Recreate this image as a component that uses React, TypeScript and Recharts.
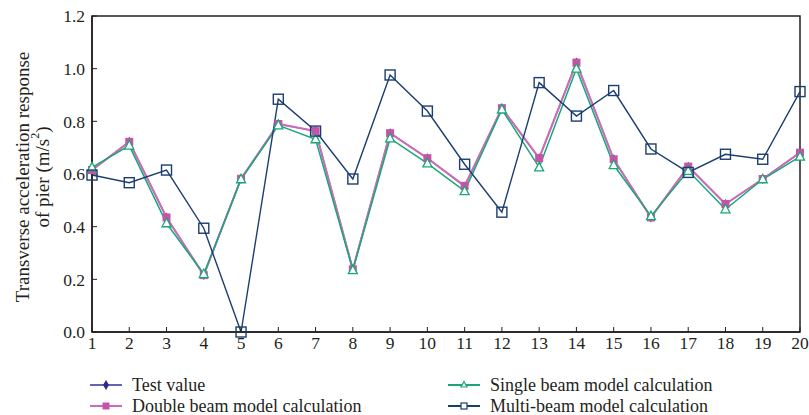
import React from 'react';
import {
  LineChart,
  Line,
  XAxis,
  YAxis,
  Legend,
  ReferenceArea,
} from 'recharts';

// pier numbers along the bridge
const piers = [1, 2, 3, 4, 5, 6, 7, 8, 9, 10, 11, 12, 13, 14, 15, 16, 17, 18, 19, 20];

// transverse acceleration response (m/s2)
const testValue = [0.615, 0.722, 0.435, 0.216, 0.582, 0.79, 0.763, 0.238, 0.755, 0.66, 0.553, 0.85, 0.66, 1.023, 0.656, 0.435, 0.628, 0.486, 0.581, 0.681];
const doubleBeam = [0.615, 0.722, 0.435, 0.216, 0.582, 0.79, 0.763, 0.238, 0.755, 0.66, 0.555, 0.85, 0.66, 1.023, 0.656, 0.435, 0.628, 0.486, 0.581, 0.681];
const singleBeam = [0.625, 0.708, 0.413, 0.22, 0.58, 0.785, 0.732, 0.235, 0.735, 0.64, 0.535, 0.845, 0.625, 1.0, 0.634, 0.44, 0.612, 0.466, 0.58, 0.666];
const multiBeam = [0.596, 0.567, 0.615, 0.394, 0.0, 0.884, 0.763, 0.581, 0.976, 0.839, 0.637, 0.455, 0.947, 0.82, 0.917, 0.695, 0.606, 0.675, 0.656, 0.913];

const yTicks = [0, 0.2, 0.4, 0.6, 0.8, 1.0, 1.2];

const data = piers.map((p, i) => ({
  pier: p,
  test: testValue[i],
  double: doubleBeam[i],
  single: singleBeam[i],
  multi: multiBeam[i],
}));

const FONT = '"Liberation Serif", "DejaVu Serif", serif';
const INK = '#231f20';

const C_TEST_LINE = '#6464b4';
const C_TEST_DOT = '#2c2c8c';
const C_DOUBLE = '#c554a8';
const C_DOUBLE_LINE = '#cc6cb8';
const C_SINGLE = '#17a878';
const C_MULTI = '#1b3d72';

const Diamond = (props: any) => {
  const { cx, cy } = props;
  if (cx == null || cy == null) return null;
  return (
    <path
      key={`d-${props.index}`}
      d={`M${cx},${cy - 5}L${cx + 3},${cy}L${cx},${cy + 5}L${cx - 3},${cy}Z`}
      fill={C_TEST_DOT}
    />
  );
};

const FilledSquare = (props: any) => {
  const { cx, cy } = props;
  if (cx == null || cy == null) return null;
  return <rect key={`s-${props.index}`} x={cx - 4} y={cy - 4} width={8} height={8} fill={C_DOUBLE} />;
};

const Triangle = (props: any) => {
  const { cx, cy } = props;
  if (cx == null || cy == null) return null;
  return (
    <path
      key={`t-${props.index}`}
      d={`M${cx},${cy - 5}L${cx + 4.5},${cy + 3.5}L${cx - 4.5},${cy + 3.5}Z`}
      fill="#fff"
      stroke={C_SINGLE}
      strokeWidth={1.3}
    />
  );
};

const HollowSquare = (props: any) => {
  const { cx, cy } = props;
  if (cx == null || cy == null) return null;
  return (
    <rect
      key={`m-${props.index}`}
      x={cx - 5}
      y={cy - 5}
      width={10}
      height={10}
      fill="none"
      stroke={C_MULTI}
      strokeWidth={1.4}
    />
  );
};

const YLabel = () => {
  const cy = 177;
  return (
    <g fontFamily={FONT} fontSize={19} fill={INK}>
      <text x={22} y={cy} transform={`rotate(-90 22 ${cy})`} textAnchor="middle" dominantBaseline="central">
        Transverse acceleration response
      </text>
      <text x={42} y={cy} transform={`rotate(-90 42 ${cy})`} textAnchor="middle" dominantBaseline="central">
        of pier (m/s<tspan dy={-7} fontSize={12}>2</tspan><tspan dy={7}>)</tspan>
      </text>
    </g>
  );
};

const legendItems = [
  { label: 'Test value', kind: 'test' },
  { label: 'Single beam model calculation', kind: 'single' },
  { label: 'Double beam model calculation', kind: 'double' },
  { label: 'Multi-beam model calculation', kind: 'multi' },
];

function LegendIcon({ kind }: { kind: string }) {
  let line = C_TEST_LINE;
  let mark: React.ReactNode = null;
  if (kind === 'test') {
    mark = <path d="M16,5L19,10L16,15L13,10Z" fill={C_TEST_DOT} />;
  } else if (kind === 'double') {
    line = C_DOUBLE_LINE;
    mark = <rect x={12.5} y={6.5} width={7} height={7} fill={C_DOUBLE} />;
  } else if (kind === 'single') {
    line = C_SINGLE;
    mark = <path d="M16,6.5L19,12L13,12Z" fill="#fff" stroke={C_SINGLE} strokeWidth={1.2} />;
  } else {
    line = C_MULTI;
    mark = <rect x={13} y={7} width={6} height={6} fill="#fff" stroke={C_MULTI} strokeWidth={1.2} />;
  }
  return (
    <svg width={32} height={20} style={{ display: 'block' }}>
      <line x1={0} y1={10} x2={32} y2={10} stroke={line} strokeWidth={2} />
      {mark}
    </svg>
  );
}

const renderLegend = () => (
  <div
    style={{
      display: 'grid',
      gridTemplateColumns: '358px 340px',
      rowGap: 1,
      fontFamily: FONT,
      fontSize: 18,
      color: INK,
    }}
  >
    {legendItems.map((it) => (
      <div key={it.kind} style={{ display: 'flex', alignItems: 'center', height: 20 }}>
        <LegendIcon kind={it.kind} />
        <span style={{ marginLeft: 10, whiteSpace: 'nowrap' }}>{it.label}</span>
      </div>
    ))}
  </div>
);

export default function App() {
  return (
    <div style={{ position: 'absolute', left: 0, top: 0, width: 809, height: 415, background: '#fff' }}>
      <LineChart width={809} height={415} data={data} margin={{ top: 16, right: 9, bottom: 53, left: 0 }}>
        <XAxis
          dataKey="pier"
          type="number"
          domain={[1, 20]}
          ticks={piers}
          interval={0}
          height={30}
          tickSize={-5}
          tickMargin={10}
          axisLine={{ stroke: INK, strokeWidth: 1.5 }}
          tickLine={{ stroke: INK, strokeWidth: 1 }}
          tick={{ fill: INK, fontFamily: FONT, fontSize: 17.5 }}
        />
        <YAxis
          type="number"
          domain={[0, 1.2]}
          ticks={yTicks}
          interval={0}
          width={92}
          tickSize={-5}
          tickMargin={12}
          tickFormatter={(v: number) => v.toFixed(1)}
          axisLine={{ stroke: INK, strokeWidth: 1.5 }}
          tickLine={{ stroke: INK, strokeWidth: 1 }}
          tick={{ fill: INK, fontFamily: FONT, fontSize: 17.5 }}
          label={<YLabel />}
        />
        <ReferenceArea x1={1} x2={20} y1={0} y2={1.2} fill="none" stroke={INK} strokeWidth={1.5} />
        <Line
          dataKey="test"
          name="Test value"
          stroke={C_TEST_LINE}
          strokeWidth={1.5}
          dot={Diamond}
          activeDot={false}
          isAnimationActive={false}
        />
        <Line
          dataKey="double"
          name="Double beam model calculation"
          stroke={C_DOUBLE_LINE}
          strokeWidth={2}
          dot={FilledSquare}
          activeDot={false}
          isAnimationActive={false}
        />
        <Line
          dataKey="single"
          name="Single beam model calculation"
          stroke={C_SINGLE}
          strokeWidth={1.5}
          dot={Triangle}
          activeDot={false}
          isAnimationActive={false}
        />
        <Line
          dataKey="multi"
          name="Multi-beam model calculation"
          stroke={C_MULTI}
          strokeWidth={1.4}
          dot={HollowSquare}
          activeDot={false}
          isAnimationActive={false}
        />
        <Legend
          layout="vertical"
          align="center"
          verticalAlign="middle"
          content={renderLegend}
          wrapperStyle={{ position: 'absolute', left: 90, top: 375, width: 710 }}
        />
      </LineChart>
    </div>
  );
}
